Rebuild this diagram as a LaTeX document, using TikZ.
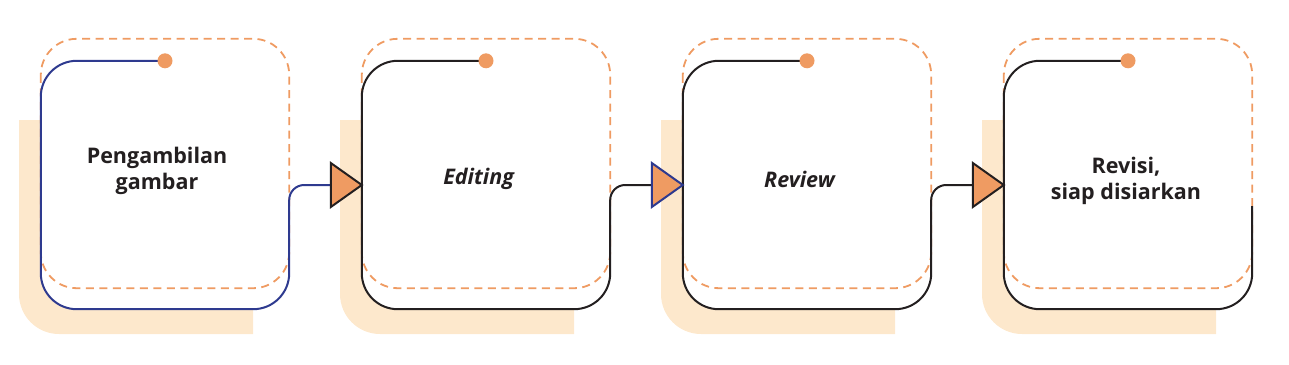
\documentclass[tikz,border=0pt]{standalone}
\usepackage{fontspec}
\setmainfont{Open Sans}
\usetikzlibrary{calc}
\definecolor{ora}{HTML}{EF9B62}
\definecolor{shad}{HTML}{FDE8CC}
\definecolor{navy}{HTML}{2E3A8F}
\definecolor{ink}{HTML}{231F20}
\tikzset{
  boxnode/.style={minimum width=248pt,minimum height=248pt,inner sep=0pt,draw=none},
  lbl/.style={font=\bfseries\fontsize{21.5}{26}\selectfont,text=ink,align=center,inner sep=0pt},
  solidline/.style={line width=2pt,rounded corners=36pt},
  dashline/.style={ora,line width=1.8pt,dash pattern=on 8pt off 5.5pt,rounded corners=36pt},
  tri/.style={fill=ora,line width=2pt,line join=miter},
  dot/.style={circle,fill=ora,inner sep=0pt,minimum size=15pt},
  conn/.style={line width=2pt,rounded corners=15pt},
}
\begin{document}
\begin{tikzpicture}[x=1pt,y=-1pt]
\useasboundingbox (0,0) rectangle (1289,364);
% shadows
\foreach \x in {41,362,683,1004}{
  \fill[shad] (\x-22,120) -- (\x-22,294) arc[start angle=180,end angle=90,radius=40] -- (\x+212,334) -- (\x+212,120) -- cycle;
}
% box nodes
\node[boxnode] (b1) at (165,185) {};
\node[boxnode] (b2) at (486,185) {};
\node[boxnode] (b3) at (807,185) {};
\node[boxnode] (b4) at (1128,185) {};
% white fills and dashed frames
\foreach \b in {b1,b2,b3,b4}{
  \fill[white,rounded corners=36pt] (\b.north west) rectangle (\b.south east);
  \draw[dashline] ($(\b.north west)+(0,-22)$) rectangle ($(\b.south east)+(0,-21)$);
}
% solid frames
\draw[solidline,navy] (b1.north) -- (b1.north west) -- (b1.south west) -- (b1.south east) -- ($(b1.east)+(0,21)$);
\draw[solidline,ink] (b2.north) -- (b2.north west) -- (b2.south west) -- (b2.south east) -- ($(b2.east)+(0,21)$);
\draw[solidline,ink] (b3.north) -- (b3.north west) -- (b3.south west) -- (b3.south east) -- ($(b3.east)+(0,21)$);
\draw[solidline,ink] (b4.north) -- (b4.north west) -- (b4.south west) -- (b4.south east) -- ($(b4.east)+(0,21)$);
% triangle bases
\coordinate (t1) at ($(b2.west)+(-31,0)$);
\coordinate (t2) at ($(b3.west)+(-31,0)$);
\coordinate (t3) at ($(b4.west)+(-31,0)$);
% connectors
\draw[conn,navy] ($(b1.east)+(0,21)$) |- (t1);
\draw[conn,ink] ($(b2.east)+(0,21)$) |- (t2);
\draw[conn,ink] ($(b3.east)+(0,21)$) |- (t3);
% arrow triangles
\draw[tri,draw=ink] (b2.west) -- ($(t1)+(0,-22)$) -- ($(t1)+(0,22)$) -- cycle;
\draw[tri,draw=navy] (b3.west) -- ($(t2)+(0,-22)$) -- ($(t2)+(0,22)$) -- cycle;
\draw[tri,draw=ink] (b4.west) -- ($(t3)+(0,-22)$) -- ($(t3)+(0,22)$) -- cycle;
% dots
\node[dot] (d1) at (b1.north) {};
\node[dot] (d2) at (b2.north) {};
\node[dot] (d3) at (b3.north) {};
\node[dot] (d4) at (b4.north) {};
% labels
\node[lbl] (l1) at ($(b1.center)+(-8,-14)$) {Pengambilan\\gambar};
\node[lbl] (l2) at ($(b2.center)+(-7,-6)$) {\textit{Editing}};
\node[lbl] (l3) at ($(b3.center)+(-7,-6)$) {\textit{Review}};
\node[lbl] (l4) at ($(b4.center)+(-2,-4)$) {Revisi,\\siap disiarkan};
\end{tikzpicture}
\end{document}
